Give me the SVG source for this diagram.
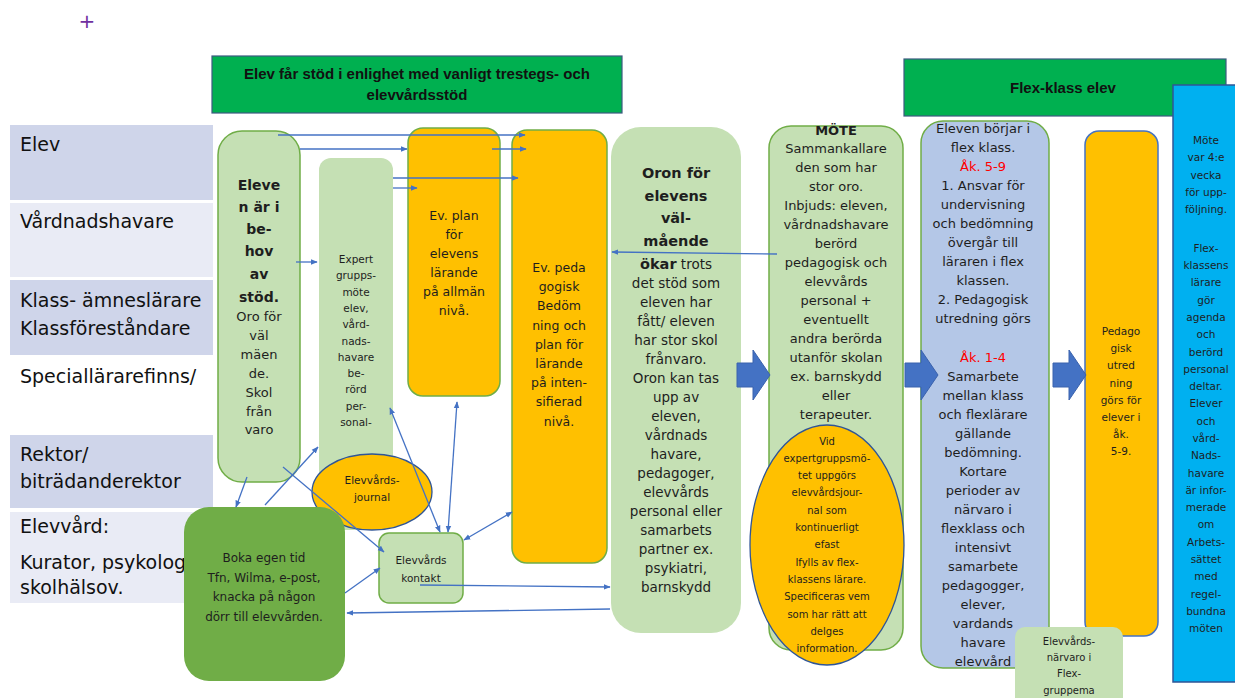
<svg xmlns="http://www.w3.org/2000/svg" xmlns:xlink="http://www.w3.org/1999/xlink" width="1235" height="698" viewBox="0 0 1235 698">
<style>
.lbl{font-family:"DejaVu Sans",sans-serif;font-size:19px;fill:#111}
.t{font-family:"DejaVu Sans",sans-serif;text-anchor:middle;fill:#1e1e1e}
.hdr{font-family:"Liberation Sans",Arial,sans-serif;font-weight:bold;font-size:15px;text-anchor:middle;fill:#111}
.lg{fill:#c5e0b4}
.gs{stroke:#70ad47;stroke-width:1.5}
.or{fill:#ffc000}
.conn{stroke:#4472c4;stroke-width:1.3;fill:none;marker-end:url(#ah)}
.both{marker-start:url(#ah)}
.ba{fill:#4472c4;stroke:#3a62ad;stroke-width:1}
</style>
<defs>
<marker id="ah" viewBox="0 0 10 10" refX="9" refY="5" markerWidth="7" markerHeight="7" markerUnits="userSpaceOnUse" orient="auto-start-reverse"><path d="M0,1 L10,5 L0,9 z" fill="#4472c4"/></marker>
<path id="barrow" d="M0,-12 H16 V-25 L33,0 L16,25 V12 H0 Z"/>
</defs>
<rect width="1235" height="698" fill="#fff"/>
<text x="87" y="28" font-family="DejaVu Sans,sans-serif" font-size="20" fill="#7030a0" text-anchor="middle">+</text>

<g id="roles">
<rect x="10" y="125" width="203" height="75" fill="#cfd5ea"/>
<rect x="10" y="203" width="203" height="74" fill="#e9ebf5"/>
<rect x="10" y="280" width="203" height="75" fill="#cfd5ea"/>
<rect x="10" y="435" width="203" height="73" fill="#cfd5ea"/>
<rect x="10" y="512" width="203" height="91" fill="#e9ebf5"/>
<text class="lbl" x="20" y="151">Elev</text>
<text class="lbl" x="20" y="228">Vårdnadshavare</text>
<text class="lbl" x="20" y="307">Klass- ämneslärare</text>
<text class="lbl" x="20" y="335">Klassföreståndare</text>
<text class="lbl" x="20" y="383">Speciallärarefinns/</text>
<text class="lbl" x="20" y="461">Rektor/</text>
<text class="lbl" x="20" y="488">biträdanderektor</text>
<text class="lbl" x="20" y="533">Elevvård:</text>
<text class="lbl" x="20" y="569">Kurator, psykolog</text>
<text class="lbl" x="20" y="594">skolhälsov.</text>
</g>

<g id="header1">
<rect x="212" y="56" width="410" height="57" fill="#00b050" stroke="#3d5a80" stroke-width="1.2"/>
<text class="hdr" x="417" y="79">Elev får stöd i enlighet med vanligt trestegs- och</text>
<text class="hdr" x="417" y="100">elevvårdsstöd</text>
</g>

<g id="header2">
<rect x="904" y="59" width="322" height="57" fill="#00b050" stroke="#3d5a80" stroke-width="1.2"/>
<text class="hdr" x="1063" y="93">Flex-klass elev</text>
</g>

<g id="node-behov">
<rect x="218" y="131" width="82" height="351" rx="24" class="lg gs"/>
<text class="t" font-size="14" font-weight="bold" y="190"><tspan x="259">Eleve</tspan><tspan x="259" dy="22">n är i</tspan><tspan x="259" dy="22">be-</tspan><tspan x="259" dy="22">hov</tspan><tspan x="259" dy="23">av</tspan><tspan x="259" dy="23">stöd.</tspan></text>
<text class="t" font-size="13" y="321"><tspan x="259">Oro för</tspan><tspan x="259" dy="19">väl</tspan><tspan x="259" dy="19">mäen</tspan><tspan x="259" dy="18.5">de.</tspan><tspan x="259" dy="19">Skol</tspan><tspan x="259" dy="19">från</tspan><tspan x="259" dy="18.5">varo</tspan></text>
</g>

<g id="node-expert">
<rect x="319" y="158" width="74" height="372" rx="12" class="lg"/>
<text class="t" font-size="10.5" fill="#3a3520" y="263"><tspan x="356">Expert</tspan><tspan x="356" dy="16.3">grupps-</tspan><tspan x="356" dy="16.3">möte</tspan><tspan x="356" dy="16.3">elev,</tspan><tspan x="356" dy="16.3">vård-</tspan><tspan x="356" dy="16.3">nads-</tspan><tspan x="356" dy="16.3">havare</tspan><tspan x="356" dy="16.3">be-</tspan><tspan x="356" dy="16.3">rörd</tspan><tspan x="356" dy="16.3">per-</tspan><tspan x="356" dy="16.3">sonal-</tspan></text>
</g>

<g id="node-journal">
<ellipse cx="372" cy="492" rx="60" ry="38" class="or" stroke="#2f5597" stroke-width="1.3"/>
<text class="t" font-size="10.5" fill="#6b3a00" y="484"><tspan x="372">Elevvårds-</tspan><tspan x="372" dy="17">journal</tspan></text>
</g>

<g id="node-plan">
<rect x="408" y="128" width="92" height="268" rx="15" class="or gs"/>
<text class="t" font-size="12.5" y="220"><tspan x="454">Ev. plan</tspan><tspan x="454" dy="19">för</tspan><tspan x="454" dy="19">elevens</tspan><tspan x="454" dy="19">lärande</tspan><tspan x="454" dy="19">på allmän</tspan><tspan x="454" dy="19">nivå.</tspan></text>
</g>

<g id="node-peda">
<rect x="512" y="130" width="95" height="433" rx="15" class="or gs"/>
<text class="t" font-size="12.5" y="272"><tspan x="559">Ev. peda</tspan><tspan x="559" dy="19.2">gogisk</tspan><tspan x="559" dy="19.2">Bedöm</tspan><tspan x="559" dy="19.2">ning och</tspan><tspan x="559" dy="19.2">plan för</tspan><tspan x="559" dy="19.2">lärande</tspan><tspan x="559" dy="19.2">på inten-</tspan><tspan x="559" dy="19.2">sifierad</tspan><tspan x="559" dy="19.2">nivå.</tspan></text>
</g>

<g id="node-oron">
<rect x="611" y="127" width="130" height="506" rx="30" class="lg"/>
<text class="t" font-size="14.5" font-weight="bold" y="178"><tspan x="676">Oron för</tspan><tspan x="676" dy="22.5">elevens</tspan><tspan x="676" dy="22.5">väl-</tspan><tspan x="676" dy="22.5">mående</tspan></text>
<text class="t" font-size="13.5" y="269"><tspan x="676" font-weight="bold" font-size="14.5">ökar</tspan><tspan> trots</tspan><tspan x="676" dy="19">det stöd som</tspan><tspan x="676" dy="19">eleven har</tspan><tspan x="676" dy="19">fått/ eleven</tspan><tspan x="676" dy="19">har stor skol</tspan><tspan x="676" dy="19">frånvaro.</tspan><tspan x="676" dy="19">Oron kan tas</tspan><tspan x="676" dy="19">upp av</tspan><tspan x="676" dy="19">eleven,</tspan><tspan x="676" dy="19">vårdnads</tspan><tspan x="676" dy="19">havare,</tspan><tspan x="676" dy="19">pedagoger,</tspan><tspan x="676" dy="19">elevvårds</tspan><tspan x="676" dy="19">personal eller</tspan><tspan x="676" dy="19">samarbets</tspan><tspan x="676" dy="19">partner ex.</tspan><tspan x="676" dy="19">psykiatri,</tspan><tspan x="676" dy="19">barnskydd</tspan></text>
</g>

<g id="node-mote">
<rect x="769" y="126" width="134" height="524" rx="22" class="lg gs"/>
<text class="t" font-size="13" y="135"><tspan x="836" font-weight="bold">MÖTE</tspan><tspan x="836" dy="18.3">Sammankallare</tspan><tspan x="836" dy="19">den som har</tspan><tspan x="836" dy="19">stor oro.</tspan><tspan x="836" dy="19">Inbjuds: eleven,</tspan><tspan x="836" dy="19">vårdnadshavare</tspan><tspan x="836" dy="19">berörd</tspan><tspan x="836" dy="19">pedagogisk och</tspan><tspan x="836" dy="19">elevvårds</tspan><tspan x="836" dy="19">personal +</tspan><tspan x="836" dy="19">eventuellt</tspan><tspan x="836" dy="19">andra berörda</tspan><tspan x="836" dy="19">utanför skolan</tspan><tspan x="836" dy="19">ex. barnskydd</tspan><tspan x="836" dy="19">eller</tspan><tspan x="836" dy="19">terapeuter.</tspan></text>
</g>

<g id="node-vid">
<ellipse cx="827" cy="545" rx="77" ry="120" class="or" stroke="#2f5597" stroke-width="1.3"/>
<text class="t" font-size="10" fill="#3a2a00" y="444.5"><tspan x="827">Vid</tspan><tspan x="827" dy="17.3">expertgruppsmö-</tspan><tspan x="827" dy="17.3">tet uppgörs</tspan><tspan x="827" dy="17.3">elevvårdsjour-</tspan><tspan x="827" dy="17.3">nal som</tspan><tspan x="827" dy="17.3">kontinuerligt</tspan><tspan x="827" dy="17.3">efast</tspan><tspan x="827" dy="17.3">Ifylls av flex-</tspan><tspan x="827" dy="17.3">klassens lärare.</tspan><tspan x="827" dy="17.3">Specificeras  vem</tspan><tspan x="827" dy="17.3">som har rätt att</tspan><tspan x="827" dy="17.3">delges</tspan><tspan x="827" dy="17.3">information.</tspan></text>
</g>

<g id="node-flex">
<rect x="921" y="121" width="128" height="547" rx="22" fill="#b4c7e7" class="gs"/>
<text class="t" font-size="13" y="133"><tspan x="983">Eleven börjar i</tspan><tspan x="983" dy="19">flex klass.</tspan><tspan x="983" dy="19" fill="#ff0000">Åk. 5-9</tspan><tspan x="983" dy="19">1.   Ansvar för</tspan><tspan x="983" dy="19">undervisning</tspan><tspan x="983" dy="19">och  bedömning</tspan><tspan x="983" dy="19">övergår till</tspan><tspan x="983" dy="19">läraren i flex</tspan><tspan x="983" dy="19">klassen.</tspan><tspan x="983" dy="19">2. Pedagogisk</tspan><tspan x="983" dy="19">utredning görs</tspan><tspan x="983" dy="39" fill="#ff0000">Åk. 1-4</tspan><tspan x="983" dy="19">Samarbete</tspan><tspan x="983" dy="19">mellan klass</tspan><tspan x="983" dy="19">och  flexlärare</tspan><tspan x="983" dy="19">gällande</tspan><tspan x="983" dy="19">bedömning.</tspan><tspan x="983" dy="19">Kortare</tspan><tspan x="983" dy="19">perioder av</tspan><tspan x="983" dy="19">närvaro i</tspan><tspan x="983" dy="19">flexklass och</tspan><tspan x="983" dy="19">intensivt</tspan><tspan x="983" dy="19">samarbete</tspan><tspan x="983" dy="19">pedagogger,</tspan><tspan x="983" dy="19">elever,</tspan><tspan x="983" dy="19">vardands</tspan><tspan x="983" dy="19">havare</tspan><tspan x="983" dy="19">elevvård</tspan></text>
</g>

<g id="node-pedagogisk">
<rect x="1085" y="131" width="73" height="505" rx="14" class="or" stroke="#4472c4" stroke-width="1.5"/>
<text class="t" font-size="10.5" fill="#7a3300" y="335"><tspan x="1121">Pedago</tspan><tspan x="1121" dy="17.2">gisk</tspan><tspan x="1121" dy="17.2">utred</tspan><tspan x="1121" dy="17.2">ning</tspan><tspan x="1121" dy="17.2">görs för</tspan><tspan x="1121" dy="17.2">elever  i</tspan><tspan x="1121" dy="17.2">åk.</tspan><tspan x="1121" dy="17.2">5-9.</tspan></text>
</g>

<g id="node-narvaro">
<rect x="1015" y="627" width="108" height="80" rx="10" class="lg"/>
<text class="t" font-size="10" fill="#3a3520" y="645"><tspan x="1069">Elevvårds-</tspan><tspan x="1069" dy="16">närvaro  i</tspan><tspan x="1069" dy="16">Flex-</tspan><tspan x="1069" dy="17">gruppema</tspan></text>
</g>

<g id="node-mote4">
<rect x="1173" y="85" width="70" height="597" fill="#00b0f0" stroke="#2f5597" stroke-width="1.5"/>
<text class="t" font-size="10.5" fill="#1f2f50" y="144"><tspan x="1206">Möte</tspan><tspan x="1206" dy="17.3">var 4:e</tspan><tspan x="1206" dy="17.3">vecka</tspan><tspan x="1206" dy="17.3">för upp-</tspan><tspan x="1206" dy="17.3">följning.</tspan><tspan x="1206" dy="38.5">Flex-</tspan><tspan x="1206" dy="17.3">klassens</tspan><tspan x="1206" dy="17.3">lärare</tspan><tspan x="1206" dy="17.3">gör</tspan><tspan x="1206" dy="17.3">agenda</tspan><tspan x="1206" dy="17.3">och</tspan><tspan x="1206" dy="17.3">berörd</tspan><tspan x="1206" dy="17.3">personal</tspan><tspan x="1206" dy="17.3">deltar.</tspan><tspan x="1206" dy="17.3">Elever</tspan><tspan x="1206" dy="17.3">och</tspan><tspan x="1206" dy="17.3">vård-</tspan><tspan x="1206" dy="17.3">Nads-</tspan><tspan x="1206" dy="17.3">havare</tspan><tspan x="1206" dy="17.3">är infor-</tspan><tspan x="1206" dy="17.3">merade</tspan><tspan x="1206" dy="17.3">om</tspan><tspan x="1206" dy="17.3">Arbets-</tspan><tspan x="1206" dy="17.3">sättet</tspan><tspan x="1206" dy="17.3">med</tspan><tspan x="1206" dy="17.3">regel-</tspan><tspan x="1206" dy="17.3">bundna</tspan><tspan x="1206" dy="17.3">möten</tspan></text>
</g>

<g id="node-boka">
<rect x="184" y="507" width="161" height="174" rx="25" fill="#70ad47"/>
<text class="t" font-size="12" fill="#111" y="562"><tspan x="264">Boka egen tid</tspan><tspan x="264" dy="19.5">Tfn, Wilma, e-post,</tspan><tspan x="264" dy="19.5">knacka på någon</tspan><tspan x="264" dy="19.5">dörr till elevvården.</tspan></text>
</g>

<g id="node-kontakt">
<rect x="379" y="533" width="84" height="70" rx="10" class="lg gs"/>
<text class="t" font-size="10.5" fill="#3a3520" y="564"><tspan x="421">Elevvårds</tspan><tspan x="421" dy="18">kontakt</tspan></text>
</g>

<g id="block-arrows">
<use xlink:href="#barrow" x="737" y="375" class="ba"/>
<use xlink:href="#barrow" x="905" y="375" class="ba"/>
<use xlink:href="#barrow" x="1053" y="375" class="ba"/>
</g>

<g id="connectors">
<line class="conn" x1="278" y1="135" x2="525" y2="135"/>
<line class="conn" x1="300" y1="149" x2="407" y2="149"/>
<line class="conn" x1="492" y1="149" x2="526" y2="149"/>
<line class="conn" x1="393" y1="178" x2="518" y2="178"/>
<line class="conn" x1="393" y1="188" x2="417" y2="188"/>
<line class="conn" x1="296" y1="262" x2="317" y2="262"/>
<line class="conn" x1="777" y1="254" x2="612" y2="252"/>
<line class="conn" x1="247" y1="477" x2="236" y2="507"/>
<line class="conn" x1="265" y1="505" x2="318" y2="447"/>
<line class="conn" x1="283" y1="467" x2="384" y2="552"/>
<line class="conn both" x1="390" y1="408" x2="440" y2="532"/>
<line class="conn both" x1="457" y1="402" x2="448" y2="532"/>
<line class="conn both" x1="512" y1="512" x2="464" y2="540"/>
<line class="conn" x1="345" y1="593" x2="380" y2="568"/>
<line class="conn" x1="420" y1="585" x2="610" y2="587"/>
<line class="conn" x1="610" y1="609" x2="347" y2="613"/>
</g>
</svg>
